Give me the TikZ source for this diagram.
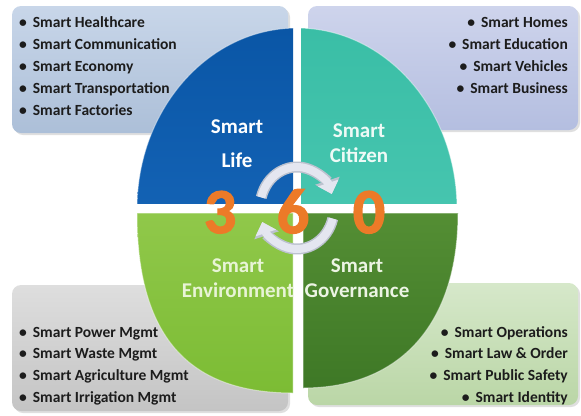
\documentclass[tikz,border=0pt]{standalone}
\usepackage{fontspec}
\setmainfont{Carlito}
\newfontfamily\digitfont[FakeBold=2]{Carlito Bold}
\usetikzlibrary{arrows.meta,shadows}

\definecolor{itemtext}{HTML}{1C1C1C}
\definecolor{digit}{HTML}{EC7A28}
\definecolor{spin}{HTML}{E4E6F0}
\definecolor{spinedge}{HTML}{BCC2CF}

\tikzset{
  infobox/.style={rounded corners=9bp, drop shadow={shadow xshift=2bp, shadow yshift=-2bp, opacity=0.25}},
  item/.style={inner sep=0pt, text=itemtext, font=\fontsize{15.5bp}{18bp}\selectfont\bfseries},
  leftitem/.style={item, anchor=base west},
  rightitem/.style={item, anchor=base east},
  qlabel/.style={inner sep=0pt, anchor=base, font=\fontsize{21bp}{24bp}\selectfont\bfseries},
  digitlabel/.style={inner sep=0pt, anchor=base, text=digit, font=\fontsize{64bp}{70bp}\digitfont},
  spinedge/.style={draw=spinedge, line width=11bp, -{Triangle[length=14bp, width=25bp]}},
  spinarrow/.style={draw=spin, line width=8bp, -{Triangle[length=11.5bp, width=21bp]}},
  rim/.style={draw=white, draw opacity=0.45, line width=1bp},
}

\begin{document}
\begin{tikzpicture}[x=1bp, y=-1bp]
\useasboundingbox (0,0) rectangle (581,415);

% four information panels behind the wheel
\path[infobox, top color={rgb,255:red,200;green,214;blue,233}, bottom color={rgb,255:red,172;green,191;blue,216}]
  (12,6) rectangle (288,133);
\path[infobox, top color={rgb,255:red,206;green,212;blue,236}, bottom color={rgb,255:red,180;green,190;blue,224}]
  (308,6) rectangle (578,130);
\path[infobox, top color={rgb,255:red,222;green,222;blue,222}, bottom color={rgb,255:red,196;green,196;blue,196}]
  (12,285) rectangle (288,411);
\path[infobox, top color={rgb,255:red,214;green,232;blue,202}, bottom color={rgb,255:red,186;green,214;blue,166}]
  (308,283) rectangle (578,405);

% the wheel: upper quadrants are cut from an ellipse
\begin{scope}
  \clip (130,20) rectangle (293,203);
  \path[rim, top color={rgb,255:red,10;green,86;blue,166}, bottom color={rgb,255:red,28;green,110;blue,194}]
    (297,209) ellipse [x radius=160, y radius=181];
\end{scope}
\begin{scope}
  \clip (301,20) rectangle (465,203);
  \path[rim, top color={rgb,255:red,58;green,190;blue,166}, bottom color={rgb,255:red,82;green,204;blue,184}]
    (297,209) ellipse [x radius=160, y radius=181];
\end{scope}
% lower quadrants have a squarer outline
\path[rim, top color={rgb,255:red,144;green,200;blue,74}, bottom color={rgb,255:red,124;green,188;blue,52}]
  (293,213) -- (137,213) .. controls (137,335) and (187,393) .. (293,393) -- cycle;
\path[rim, top color={rgb,255:red,84;green,142;blue,52}, bottom color={rgb,255:red,62;green,120;blue,38}]
  (303,213) -- (458,213) .. controls (458,323) and (401,388) .. (303,388) -- cycle;

% panel items
\foreach \t [count=\i] in {Smart Healthcare, Smart Communication, Smart Economy, Smart Transportation, Smart Factories}
  \node[leftitem] (lifeitem\i) at (19,{27+22*(\i-1)}) {\textbullet\hspace{6bp}\t};
\foreach \t [count=\i] in {Smart Homes, Smart Education, Smart Vehicles, Smart Business}
  \node[rightitem] (citizenitem\i) at (568,{27+22*(\i-1)}) {\textbullet\hspace{6bp}\t};
\foreach \t [count=\i] in {Smart Power Mgmt, Smart Waste Mgmt, Smart Agriculture Mgmt, Smart Irrigation Mgmt}
  \node[leftitem] (envitem\i) at (19,{337+21.7*(\i-1)}) {\textbullet\hspace{6bp}\t};
\foreach \t [count=\i] in {Smart Operations, Smart Law \& Order, Smart Public Safety, Smart Identity}
  \node[rightitem] (govitem\i) at (568,{337+21.7*(\i-1)}) {\textbullet\hspace{6bp}\t};

% quadrant titles
\node[qlabel, text=white] (life1) at (237,133) {Smart};
\node[qlabel, text=white] (life2) at (237,167) {Life};
\node[qlabel, text={rgb,255:red,238;green,250;blue,246}] (cit1) at (359,137) {Smart};
\node[qlabel, text={rgb,255:red,238;green,250;blue,246}] (cit2) at (359,162) {Citizen};
\node[qlabel, text={rgb,255:red,232;green,244;blue,214}] (env1) at (238,272) {Smart};
\node[qlabel, text={rgb,255:red,232;green,244;blue,214}] (env2) at (238,297) {Environment};
\node[qlabel, text={rgb,255:red,236;green,244;blue,228}] (gov1) at (357,272) {Smart};
\node[qlabel, text={rgb,255:red,236;green,244;blue,228}] (gov2) at (357,297) {Governance};

% circular arrows around the centre
\coordinate (hub) at (297,208);
\foreach \a/\b/\s in {-165/-20/spinedge, -165/-20/spinarrow, 15/160/spinedge, 15/160/spinarrow}
  \draw[\s] (hub) ++(\a:37 and 41) arc[start angle=\a, end angle=\b, x radius=37, y radius=41];

% 3 6 0
\node[digitlabel] (d3) at (220,233) {3};
\node[digitlabel] (d6) at (293,233) {6};
\node[digitlabel] (d0) at (369,233) {0};
\end{tikzpicture}
\end{document}
